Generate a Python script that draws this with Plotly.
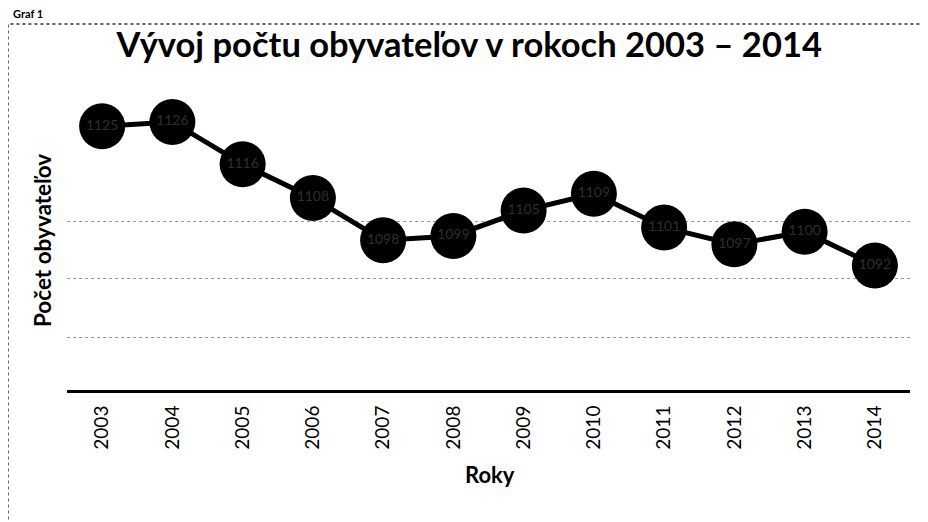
import plotly.graph_objects as go

years = ["2003", "2004", "2005", "2006", "2007", "2008", "2009", "2010", "2011", "2012", "2013", "2014"]
population = [1125, 1126, 1116, 1108, 1098, 1099, 1105, 1109, 1101, 1097, 1100, 1092]
title_text = "Vývoj počtu obyvateľov v rokoch 2003 – 2014"
x_title = "Roky"
y_title = "Počet obyvateľov"

fig = go.Figure()
fig.add_trace(go.Scatter(
    x=years, y=population,
    mode="lines+markers+text",
    text=[str(v) for v in population],
    textposition="middle center",
    textfont=dict(family="Lato", size=14, color="#2e2e2e"),
    line=dict(color="black", width=5),
    marker=dict(color="black", size=46),
    cliponaxis=False,
    showlegend=False,
))

fig.update_layout(
    width=928, height=522,
    paper_bgcolor="white", plot_bgcolor="white",
    margin=dict(l=59, r=26, t=92, b=140, autoexpand=False),
    font=dict(family="Lato", color="black"),
    title=dict(text="<b>" + title_text + "</b>", x=0.497, xanchor="center",
               y=0.929, yanchor="middle", font=dict(size=34.5, color="black")),
    xaxis=dict(type="category", range=[-0.5, 11.5], showgrid=False,
               showline=True, linecolor="black", linewidth=3,
               tickangle=-90, tickfont=dict(size=19, color="black"),
               ticks="", ticklabelstandoff=5, fixedrange=True),
    yaxis=dict(range=[1062.5, 1131.2], tickvals=[1075, 1089, 1102.5],
               showticklabels=False, showgrid=True, gridcolor="#9a9a9a",
               griddash="dot", gridwidth=1, zeroline=False, showline=False),
    annotations=[
        dict(text="<b>" + x_title + "</b>", xref="paper", yref="paper",
             x=0.502, y=-0.29, xanchor="center", yanchor="middle",
             showarrow=False, font=dict(size=22, color="black")),
        dict(text="<b>" + y_title + "</b>", xref="paper", yref="paper",
             x=-0.0297, y=0.517, xanchor="center", yanchor="middle",
             textangle=-90, showarrow=False,
             font=dict(size=22.5, color="black")),
        dict(text="<b>Graf 1</b>", xref="paper", yref="paper",
             x=-0.066, y=1.268, xanchor="left", yanchor="bottom",
             showarrow=False, font=dict(size=11, color="black")),
    ],
    shapes=[
        dict(type="rect", xref="paper", yref="paper",
             x0=-0.070, y0=-0.6, x1=1.04, y1=1.262,
             line=dict(color="#333333", width=1.5, dash="dot")),
    ],
)

fig.write_html("out.html")
